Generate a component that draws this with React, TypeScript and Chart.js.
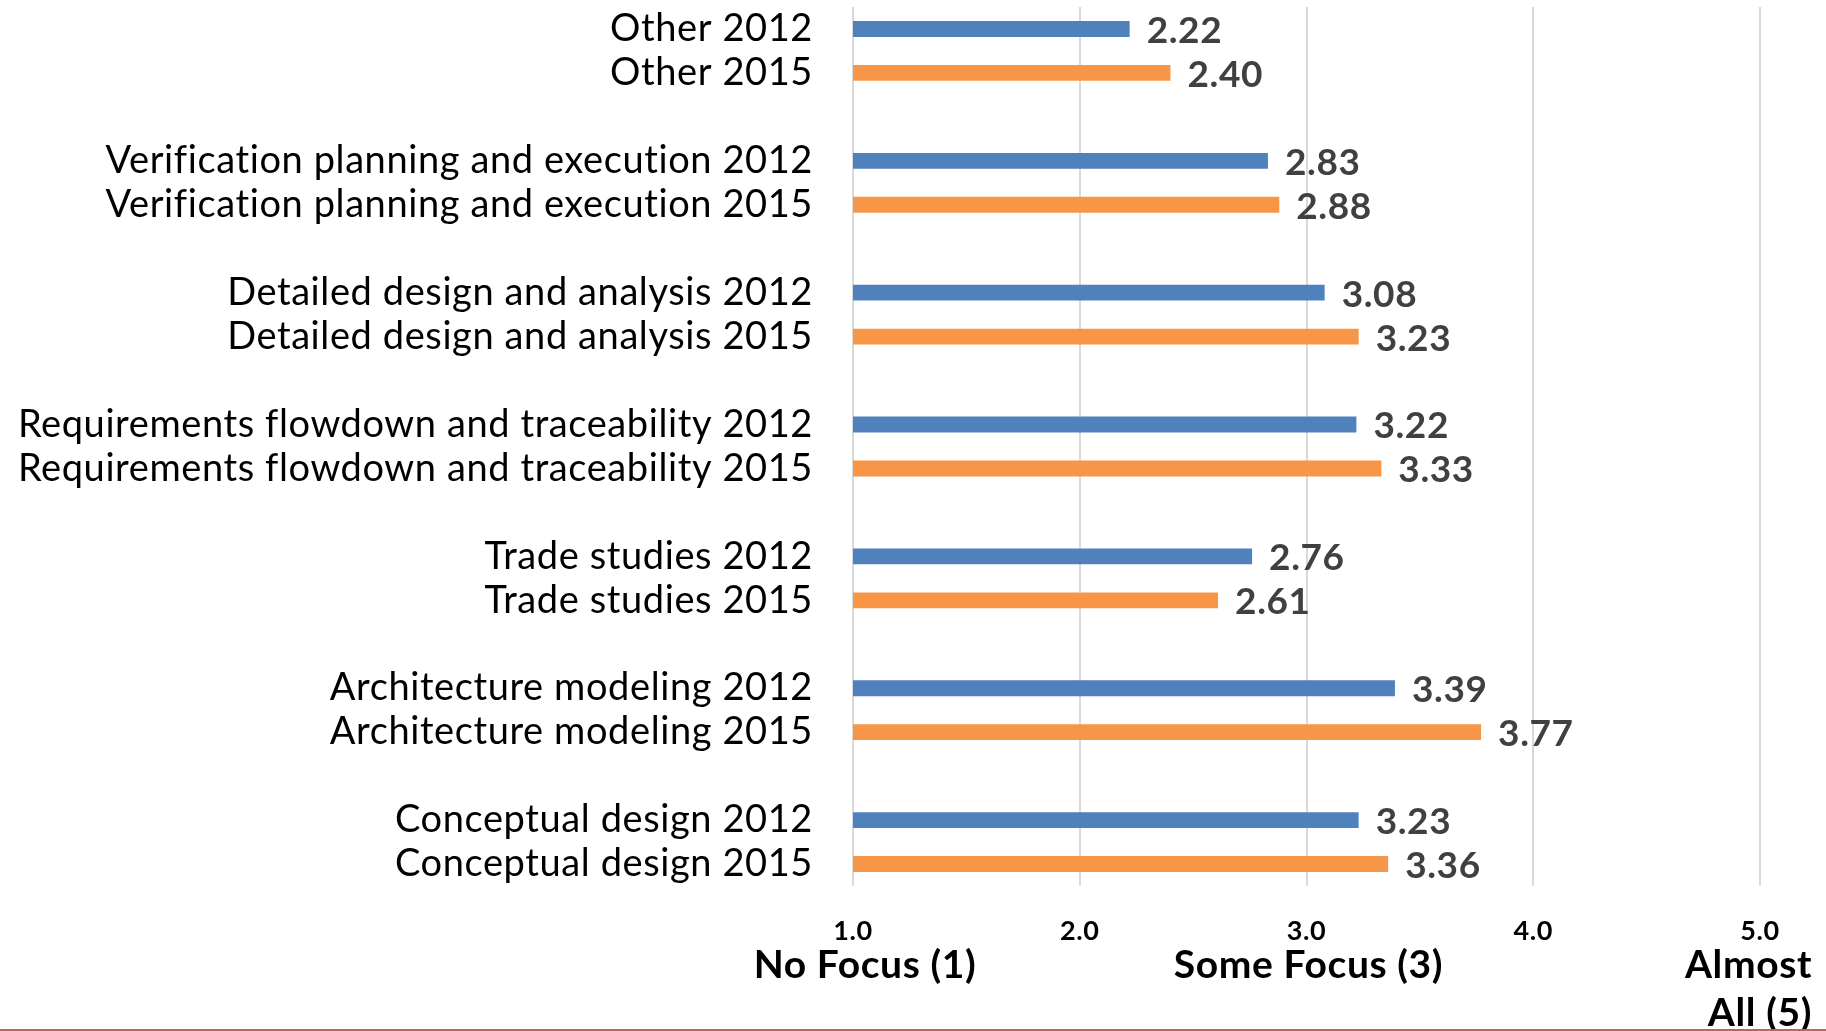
import React, { useEffect, useRef } from "react";
import { Chart, registerables } from "chart.js";

Chart.register(...registerables);

const groups = [
  "Other",
  "Verification planning and execution",
  "Detailed design and analysis",
  "Requirements flowdown and traceability",
  "Trade studies",
  "Architecture modeling",
  "Conceptual design",
];
const years = ["2012", "2015"];
const values2012 = [2.22, 2.83, 3.08, 3.22, 2.76, 3.39, 3.23];
const values2015 = [2.4, 2.88, 3.23, 3.33, 2.61, 3.77, 3.36];
const xTickValues = [1, 2, 3, 4, 5];
const anchorValues = [1, 3, 5];
const anchorLabels = [["No Focus (1)"], ["Some Focus (3)"], ["Almost", "All (5)"]];

const COLOR_2012 = "#4F81BD";
const COLOR_2015 = "#F79646";

function buildRows() {
  const labels: string[] = [];
  const d2012: (number | null)[] = [];
  const d2015: (number | null)[] = [];
  groups.forEach((g, i) => {
    labels.push(`${g} ${years[0]}`);
    d2012.push(values2012[i]);
    d2015.push(null);
    labels.push(`${g} ${years[1]}`);
    d2012.push(null);
    d2015.push(values2015[i]);
    if (i < groups.length - 1) {
      labels.push("");
      d2012.push(null);
      d2015.push(null);
    }
  });
  return { labels, d2012, d2015 };
}

const textSetupPlugin = {
  id: "textSetup",
  beforeDraw(chart: any) {
    const ctx = chart.ctx as any;
    try {
      ctx.textRendering = "optimizeSpeed";
      ctx.letterSpacing = "0.6px";
    } catch (e) {}
  },
};

const dataLabelPlugin = {
  id: "dataLabels",
  afterDatasetsDraw(chart: any) {
    const ctx = chart.ctx;
    ctx.save();
    ctx.font = "bold 37px Lato";
    ctx.fillStyle = "#404040";
    ctx.textAlign = "left";
    ctx.textBaseline = "middle";
    chart.data.datasets.forEach((ds: any, i: number) => {
      const meta = chart.getDatasetMeta(i);
      meta.data.forEach((el: any, j: number) => {
        const v = ds.data[j];
        if (v == null) return;
        ctx.fillText(v.toFixed(2), el.x + 17, el.y + 2);
      });
    });
    ctx.restore();
  },
};

const anchorPlugin = {
  id: "anchors",
  afterDraw(chart: any) {
    const ctx = chart.ctx;
    const xs = chart.scales.x;
    const base = chart.chartArea.bottom + 92;
    ctx.save();
    ctx.font = "bold 39px Lato";
    ctx.fillStyle = "#000";
    ctx.textBaseline = "alphabetic";
    anchorValues.forEach((v, i) => {
      const px = xs.getPixelForValue(v);
      const lines = anchorLabels[i];
      lines.forEach((line, k) => {
        if (i === anchorValues.length - 1) {
          ctx.textAlign = "right";
          ctx.fillText(line, px + 52, base + k * 48);
        } else {
          ctx.textAlign = "center";
          ctx.fillText(line, px + (i === 0 ? 12 : 2), base + k * 48);
        }
      });
    });
    // bottom rule
    ctx.fillStyle = "#C5605C";
    ctx.fillRect(0, chart.height - 2, chart.width, 2);
    ctx.restore();
  },
};

export default function App() {
  const ref = useRef<HTMLCanvasElement | null>(null);
  useEffect(() => {
    if (!ref.current) return;
    const { labels, d2012, d2015 } = buildRows();
    const chart = new Chart(ref.current, {
      type: "bar",
      data: {
        labels,
        datasets: [
          { label: "2012", data: d2012, backgroundColor: COLOR_2012 },
          { label: "2015", data: d2015, backgroundColor: COLOR_2015 },
        ],
      },
      options: {
        indexAxis: "y",
        responsive: false,
        animation: false,
        devicePixelRatio: 1,
        layout: { padding: { top: 7, right: 66, left: 0, bottom: 0 } },
        datasets: { bar: { grouped: false, categoryPercentage: 1, barPercentage: 0.36 } } as any,
        plugins: { legend: { display: false }, tooltip: { enabled: false } },
        scales: {
          x: {
            type: "linear",
            min: 1,
            max: 5,
            afterBuildTicks: (scale: any) => {
              scale.ticks = xTickValues.map((v) => ({ value: v }));
            },
            afterFit: (scale: any) => {
              scale.height = 145;
              scale.paddingLeft = 0;
              scale.paddingRight = 0;
            },
            grid: { color: "#D9D9D9", lineWidth: 2, drawTicks: false },
            border: { display: false },
            ticks: {
              callback: (v: any) => Number(v).toFixed(1),
              font: { family: "Lato", size: 27, weight: "bold" },
              color: "#000",
              padding: 29,
              maxRotation: 0,
            },
          },
          y: {
            type: "category",
            afterFit: (scale: any) => {
              scale.width = 853;
              scale.paddingTop = 0;
              scale.paddingBottom = 0;
            },
            grid: { display: false, drawTicks: false },
            border: { display: false },
            ticks: {
              autoSkip: false,
              font: { family: "Lato", size: 38 },
              color: "#000",
              padding: 40,
            },
          },
        },
      } as any,
      plugins: [textSetupPlugin, dataLabelPlugin, anchorPlugin],
    });
    return () => chart.destroy();
  }, []);
  return (
    <div style={{ position: "fixed", left: 0, top: 0, width: 1826, height: 1031, background: "#fff" }}>
      <canvas ref={ref} width={1826} height={1031} style={{ width: 1826, height: 1031, display: "block" }} />
    </div>
  );
}
